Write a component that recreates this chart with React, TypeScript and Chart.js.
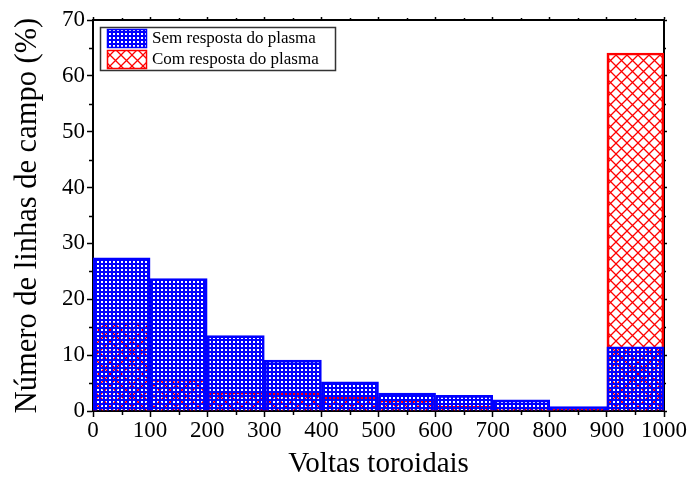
import React, { useEffect, useRef } from "react";
import { Chart, registerables } from "chart.js";

Chart.register(...registerables);

const binCenters = [50, 150, 250, 350, 450, 550, 650, 750, 850, 950];
const semResposta = [27.4, 23.7, 13.5, 9.1, 5.2, 3.2, 2.8, 2.0, 0.8, 11.5];
const comResposta = [15.8, 5.7, 3.4, 3.2, 2.5, 2.0, 0.9, 0.7, 0.4, 64.1];
const seriesLabels = ["Sem resposta do plasma", "Com resposta do plasma"];
const xTitle = "Voltas toroidais";
const yTitle = "Número de linhas de campo (%)";

const FONT = "'Liberation Serif', 'Times New Roman', serif";

function makeBluePattern(ctx: CanvasRenderingContext2D) {
  const c = document.createElement("canvas");
  c.width = 4;
  c.height = 4;
  const g = c.getContext("2d")!;
  g.fillStyle = "#0000ff";
  g.fillRect(0, 0, 4, 4);
  g.clearRect(1, 1, 2, 2);
  return ctx.createPattern(c, "repeat")!;
}

function makeRedPattern(ctx: CanvasRenderingContext2D) {
  const s = 11;
  const c = document.createElement("canvas");
  c.width = s;
  c.height = s;
  const g = c.getContext("2d")!;
  g.strokeStyle = "#ff0000";
  g.lineWidth = 1.3;
  g.beginPath();
  g.moveTo(-1, -1);
  g.lineTo(s + 1, s + 1);
  g.moveTo(s + 1, -1);
  g.lineTo(-1, s + 1);
  g.stroke();
  return ctx.createPattern(c, "repeat")!;
}

export default function App() {
  const ref = useRef<HTMLCanvasElement | null>(null);

  useEffect(() => {
    document.body.style.margin = "0";
    const canvas = ref.current!;
    const ctx = canvas.getContext("2d")!;
    const blue = makeBluePattern(ctx);
    const red = makeRedPattern(ctx);

    const minorTicks = {
      id: "minorTicks",
      afterDraw(chart: any) {
        const c = chart.ctx;
        const { x, y, x2, y2 } = chart.scales;
        c.save();
        c.strokeStyle = "#000";
        c.lineWidth = 1.5;
        c.beginPath();
        for (let v = 50; v < 1000; v += 100) {
          const px = Math.round(x.getPixelForValue(v)) + 0.5;
          c.moveTo(px, x.top);
          c.lineTo(px, x.top + 4);
          c.moveTo(px, x2.bottom);
          c.lineTo(px, x2.bottom - 2);
        }
        for (let v = 5; v < 70; v += 10) {
          const py = Math.round(y.getPixelForValue(v)) + 0.5;
          c.moveTo(y.right, py);
          c.lineTo(y.right - 4, py);
          c.moveTo(y2.left, py);
          c.lineTo(y2.left + 2, py);
        }
        c.stroke();
        c.restore();
      },
    };

    const legendBox = {
      id: "legendBox",
      afterDraw(chart: any) {
        const c = chart.ctx;
        c.save();
        c.fillStyle = "#fff";
        c.fillRect(100, 27, 235, 43);
        c.strokeStyle = "#333";
        c.lineWidth = 1.5;
        c.strokeRect(100.5, 27.5, 235, 43);
        const items = [
          { fill: blue, stroke: "#0000ff", y: 29 },
          { fill: red, stroke: "#ff0000", y: 50 },
        ];
        items.forEach((it, i) => {
          c.fillStyle = "#fff";
          c.fillRect(107, it.y, 40, 19);
          c.fillStyle = it.fill;
          c.fillRect(107, it.y, 40, 19);
          c.strokeStyle = it.stroke;
          c.lineWidth = 1.5;
          c.strokeRect(107.5, it.y + 0.5, 39, 18);
          c.fillStyle = "#000";
          c.font = `17px ${FONT}`;
          c.textBaseline = "middle";
          c.textAlign = "left";
          c.fillText(seriesLabels[i], 152, it.y + 10);
        });
        c.restore();
      },
    };

    const tickFont = { family: FONT, size: 23, lineHeight: 1 };
    const plain = (v: any) => String(v);
    const chart = new Chart(canvas, {
      type: "bar",
      data: {
        datasets: [
          {
            label: seriesLabels[0],
            data: binCenters.map((c, i) => ({ x: c, y: semResposta[i] })),
            backgroundColor: blue as any,
            borderColor: "#0000ff",
            borderWidth: 2,
            barPercentage: 1,
            categoryPercentage: 1,
            grouped: false,
            xAxisID: "x",
            yAxisID: "y",
          },
          {
            label: seriesLabels[1],
            data: binCenters.map((c, i) => ({ x: c, y: comResposta[i] })),
            backgroundColor: red as any,
            borderColor: "#ff0000",
            borderWidth: 2,
            barPercentage: 1,
            categoryPercentage: 1,
            grouped: false,
            xAxisID: "x",
            yAxisID: "y",
          },
        ],
      },
      options: {
        animation: false,
        responsive: false,
        devicePixelRatio: 1,
        layout: { padding: 0 },
        plugins: { legend: { display: false }, tooltip: { enabled: false } },
        scales: {
          x: {
            type: "linear",
            position: "bottom",
            min: 0,
            max: 1000,
            offset: false,
            afterFit: (s: any) => {
              s.height = 72;
            },
            ticks: { stepSize: 100, color: "#000", font: tickFont, padding: 2, maxRotation: 0, autoSkip: false, callback: plain },
            grid: { drawOnChartArea: false, offset: false, tickLength: 6, tickWidth: 1.5, tickColor: "#000" },
            border: { color: "#000", width: 2 },
            title: { display: true, text: xTitle, color: "#000", font: { family: FONT, size: 29, lineHeight: 1 }, padding: { top: 0, bottom: 4 } },
          },
          y: {
            type: "linear",
            position: "left",
            min: 0,
            max: 70,
            afterFit: (s: any) => {
              s.width = 93;
            },
            ticks: { stepSize: 10, color: "#000", font: tickFont, padding: 2, callback: plain },
            grid: { drawOnChartArea: false, tickLength: 6, tickWidth: 1.5, tickColor: "#000" },
            border: { color: "#000", width: 2 },
            title: { display: true, text: yTitle, color: "#000", font: { family: FONT, size: 30.5, lineHeight: 1 }, padding: { top: 13, bottom: 0 } },
          },
          x2: {
            type: "linear",
            position: "top",
            min: 0,
            max: 1000,
            offset: false,
            afterFit: (s: any) => {
              s.height = 20;
            },
            ticks: { stepSize: 100, display: false },
            grid: { drawOnChartArea: false, offset: false, tickLength: 3, tickWidth: 1.5, tickColor: "#000" },
            border: { color: "#000", width: 2 },
          },
          y2: {
            type: "linear",
            position: "right",
            min: 0,
            max: 70,
            afterFit: (s: any) => {
              s.width = 28;
            },
            ticks: { stepSize: 10, display: false },
            grid: { drawOnChartArea: false, tickLength: 3, tickWidth: 1.5, tickColor: "#000" },
            border: { color: "#000", width: 2 },
          },
        },
      },
      plugins: [minorTicks, legendBox],
    } as any);
    return () => chart.destroy();
  }, []);

  return (
    <div style={{ width: 692, height: 483 }}>
      <canvas ref={ref} width={692} height={483} style={{ display: "block" }} />
    </div>
  );
}
